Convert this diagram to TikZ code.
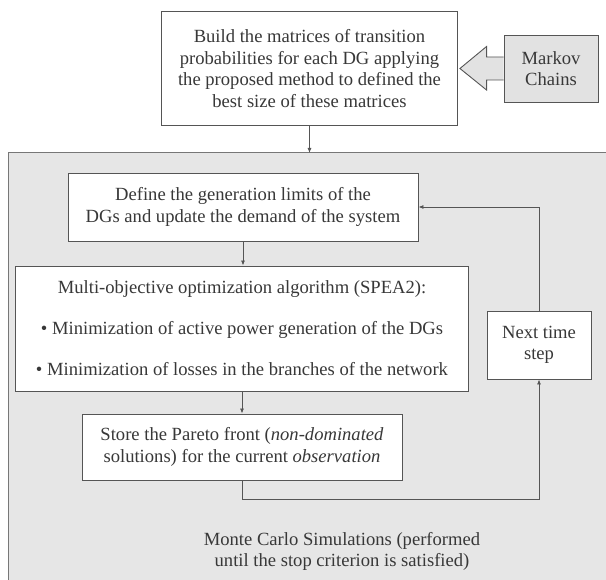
\documentclass[tikz,border=0pt]{standalone}
\usepackage{fontspec}
\setmainfont{Liberation Serif}
\usetikzlibrary{arrows.meta}
\usetikzlibrary{positioning}
\usetikzlibrary{calc}
\definecolor{inkgray}{HTML}{383838}
\definecolor{linegray}{HTML}{555555}
\definecolor{panelgray}{HTML}{E6E6E6}
\definecolor{markovgray}{HTML}{E2E2E2}
\tikzset{
  flowbox/.style={draw=linegray, line width=0.9pt, fill=white, align=center,
    inner sep=0pt, text=inkgray, font=\fontsize{18.6}{21.4}\selectfont},
  flowtext/.style={align=center, inner sep=0pt, text=inkgray,
    font=\fontsize{18.6}{21.4}\selectfont},
  flowline/.style={draw=linegray, line width=0.8pt,
    -{Latex[length=5pt,width=4pt]}},
}

\begin{document}
\begin{tikzpicture}[x=1pt,y=-1pt]
	\useasboundingbox (0,0) rectangle (606,580);

	% grey panel of the simulations
	\filldraw[fill=panelgray, draw=linegray!80, line width=1pt] (8,153) rectangle (640,620);
	\coordinate (paneltop) at (311,153);

	\node[flowbox, minimum width=296pt, minimum height=114pt] (build) at (309.5,68.5)
	{Build the matrices of transition\\probabilities for each DG applying\\the proposed method to defined the\\best size of these matrices};
	\node[flowbox, fill=markovgray, minimum width=94pt, minimum height=67pt] (markov) at (551,68.5)
	{Markov\\Chains};

	\node[flowbox, minimum width=350pt, minimum height=68pt] (define) at (243,207)
	{Define the generation limits of the\\DGs and update the demand of the system};
	\node[flowbox, minimum width=453pt, minimum height=125pt] (multi) at (242,328.5)
	{Multi-objective optimization algorithm (SPEA2):\\[19.6pt]
	\textbullet\ Minimization of active power generation of the DGs\\[19.6pt]
	\textbullet\ Minimization of losses in the branches of the network};
	\node[flowbox, minimum width=320pt, minimum height=66pt] (store) at (242,447)
	{Store the Pareto front (\textit{non-dominated}\\solutions) for the current \textit{observation}};
	\node[flowbox, minimum width=104pt, minimum height=68pt] (next) at (539,345)
	{Next time\\step};

	\node[flowtext] (monte) at (342,551.5)
	{Monte Carlo Simulations (performed\\until the stop criterion is satisfied)};

	% block arrow from the Markov box
	\filldraw[fill=markovgray, draw=linegray, line width=0.9pt, line join=miter]
	($(markov.west)+(0,-11.5)$) -- ++(-17,0) -- ++(0,-10.5)
	-- ($(build.east)+(2,0)$)
	-- ($(markov.west)+(-17,21.5)$) -- ++(0,-10) -- ($(markov.west)+(0,11.5)$);

	\draw[flowline] (build.south) -- (build.south |- paneltop);
	\draw[flowline] (define.south) -- (define.south |- multi.north);
	\draw[flowline] (multi.south) -- (store.north);
	\draw[flowline] (store.south) -- ++(0,19) -| (next.south);
	\draw[flowline] (next.north) |- (define.east);

	\end{tikzpicture}
\end{document}
